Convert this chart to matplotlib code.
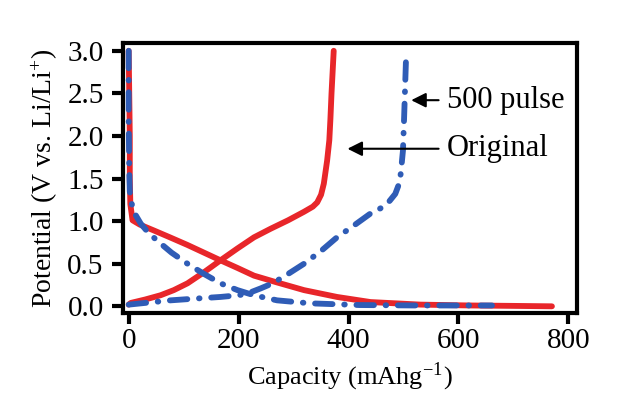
import matplotlib.pyplot as plt

plt.rcParams['font.family'] = ['Liberation Serif', 'DejaVu Serif']
plt.rcParams['mathtext.fontset'] = 'stix'

# Original (red): discharge and charge curves
orig_dis_x = [0, 1, 2, 2, 3, 7, 20, 46, 75, 107, 137, 167, 198, 228, 270, 319, 379, 440, 531, 620, 700, 770]
orig_dis_y = [3.0, 2.5, 2.0, 1.5, 1.2, 1.01, 0.96, 0.89, 0.81, 0.72, 0.63, 0.54, 0.45, 0.36, 0.28, 0.19, 0.11, 0.05, 0.02, 0.01, 0.005, 0.0]
orig_chg_x = [0, 4, 30, 58, 82, 107, 137, 167, 198, 228, 258, 290, 319, 335, 343, 350, 355, 361, 365, 367, 369, 371, 373]
orig_chg_y = [0.02, 0.04, 0.08, 0.13, 0.19, 0.27, 0.40, 0.54, 0.68, 0.81, 0.91, 1.01, 1.11, 1.17, 1.22, 1.31, 1.44, 1.71, 1.95, 2.2, 2.5, 2.75, 3.0]

# 500 pulse (blue): discharge and charge curves
pulse_dis_x = [0, 0, 1, 2, 4, 10, 22, 35, 52, 78, 107, 137, 167, 198, 228, 270, 330, 420, 520, 661]
pulse_dis_y = [3.0, 2.2, 1.6, 1.35, 1.24, 1.1, 0.97, 0.87, 0.77, 0.63, 0.50, 0.38, 0.27, 0.19, 0.13, 0.07, 0.035, 0.015, 0.01, 0.01]
pulse_chg_x = [0, 30, 76, 120, 167, 200, 216, 240, 262, 290, 319, 350, 379, 410, 440, 458, 470, 485, 492, 495, 499, 501, 503, 505]
pulse_chg_y = [0.02, 0.04, 0.07, 0.09, 0.11, 0.13, 0.15, 0.21, 0.27, 0.38, 0.50, 0.65, 0.81, 0.95, 1.09, 1.15, 1.20, 1.32, 1.44, 1.56, 1.83, 2.2, 2.6, 3.0]

red = '#e8262a'
blue = '#2f5cb6'

fig, ax = plt.subplots(figsize=(6.35, 4.03), dpi=100)
fig.subplots_adjust(left=0.194, right=0.909, top=0.893, bottom=0.223)

ax.plot(orig_dis_x, orig_dis_y, color=red, lw=4.2, solid_capstyle='round')
ax.plot(orig_chg_x, orig_chg_y, color=red, lw=4.2, solid_capstyle='round')
ax.plot(pulse_dis_x, pulse_dis_y, color=blue, lw=4.2, dashes=(3, 2, 0.1, 2), dash_capstyle='round')
ax.plot(pulse_chg_x, pulse_chg_y, color=blue, lw=4.2, dashes=(3, 2, 0.1, 2), dash_capstyle='round')

ax.annotate('500 pulse', xy=(514, 2.42), xytext=(579, 2.42), fontsize=22, va='center',
            arrowprops=dict(arrowstyle='-|>', color='black', lw=1.5, shrinkA=4, shrinkB=0))
ax.annotate('Original', xy=(398, 1.85), xytext=(579, 1.85), fontsize=22, va='center',
            arrowprops=dict(arrowstyle='-|>', color='black', lw=1.5, shrinkA=4, shrinkB=0))

ax.set_xlim(-10, 816)
ax.set_ylim(-0.08, 3.09)
ax.set_xticks([0, 200, 400, 600, 800])
ax.set_yticks([0.0, 0.5, 1.0, 1.5, 2.0, 2.5, 3.0])
ax.set_yticklabels(['0.0', '0.5', '1.0', '1.5', '2.0', '2.5', '3.0'])
ax.tick_params(labelsize=21, width=3, length=8, direction='out')
ax.tick_params(axis='x', pad=3)
ax.tick_params(axis='y', pad=6)
for s in ax.spines.values():
    s.set_linewidth(3)

ax.set_xlabel('Capacity (mAhg$^{\\mathregular{-1}}$)', fontsize=19, labelpad=4)
ax.set_ylabel('Potential (V vs. Li/Li$^{\\mathregular{+}}$)', fontsize=20, labelpad=5)

fig.savefig('out.png', dpi=100)
